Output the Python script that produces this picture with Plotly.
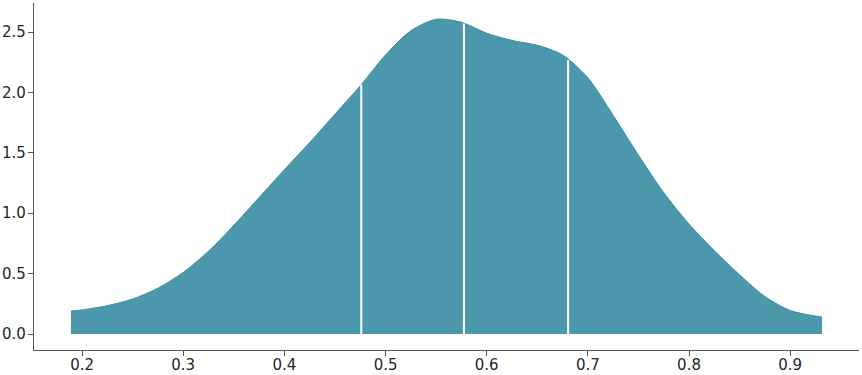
import numpy as np
import plotly.graph_objects as go

# Density curve values
x_vals = [0.189, 0.2, 0.225, 0.25, 0.275, 0.3, 0.325, 0.35, 0.375, 0.4, 0.425, 0.45,
          0.475, 0.5, 0.525, 0.55, 0.575, 0.6, 0.625, 0.65, 0.675, 0.7, 0.725, 0.75,
          0.775, 0.8, 0.825, 0.85, 0.875, 0.9, 0.9315]
density = [0.19, 0.20, 0.235, 0.29, 0.38, 0.51, 0.685, 0.90, 1.13, 1.36, 1.585, 1.82,
           2.055, 2.31, 2.51, 2.605, 2.58, 2.49, 2.43, 2.39, 2.31, 2.12, 1.81, 1.48,
           1.17, 0.91, 0.69, 0.49, 0.31, 0.195, 0.14]
quartiles = [0.476, 0.5775, 0.6805]

x_ticks = [0.2, 0.3, 0.4, 0.5, 0.6, 0.7, 0.8, 0.9]
y_ticks = [0.0, 0.5, 1.0, 1.5, 2.0, 2.5]

fill_color = "#4B97AC"
edge_color = "#3D8BA1"

fig = go.Figure()
fig.add_trace(go.Scatter(
    x=x_vals, y=density, mode="lines", fill="tozeroy",
    fillcolor=fill_color, line=dict(color=edge_color, width=1, shape="spline", smoothing=0.8),
    hoverinfo="skip", showlegend=False,
))

for q in quartiles:
    h = float(np.interp(q, x_vals, density))
    fig.add_trace(go.Scatter(
        x=[q, q], y=[0, h], mode="lines",
        line=dict(color="white", width=2), hoverinfo="skip", showlegend=False,
    ))

axis_common = dict(
    showline=True, linecolor="#555555", linewidth=1.2, mirror=False,
    ticks="outside", ticklen=5, tickwidth=1.2, tickcolor="#555555",
    showgrid=False, zeroline=False, automargin=False,
    tickfont=dict(family="DejaVu Sans", size=15, color="#262626"),
)

fig.update_layout(
    width=862, height=375,
    margin=dict(l=34, r=3, t=3, b=25),
    paper_bgcolor="white", plot_bgcolor="white",
    xaxis=dict(range=[0.1525, 0.968], tickvals=x_ticks, ticklabelstandoff=-4,
               ticktext=[f"{v:.1f}" for v in x_ticks], **axis_common),
    yaxis=dict(range=[-0.132, 2.74], tickvals=y_ticks, ticklabelstandoff=-1,
               ticktext=[f"{v:.1f}" for v in y_ticks], **axis_common),
)

fig.write_html("out.html")
